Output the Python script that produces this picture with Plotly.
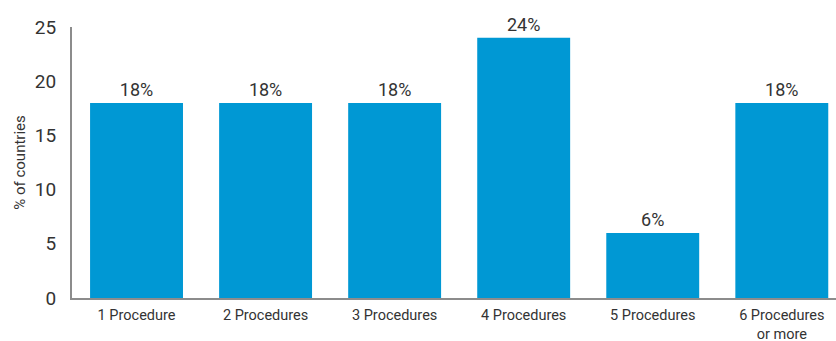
import plotly.graph_objects as go

categories = ["1 Procedure", "2 Procedures", "3 Procedures", "4 Procedures", "5 Procedures", "6 Procedures<br>or more"]
values = [18, 18, 18, 24, 6, 18]
labels = ["18%", "18%", "18%", "24%", "6%", "18%"]
y_ticks = [0, 5, 10, 15, 20, 25]

FONT = "Roboto, sans-serif"

fig = go.Figure(go.Bar(
    x=list(range(len(categories))),
    y=values,
    text=labels,
    textposition="outside",
    textfont=dict(size=18, color="#333333", family=FONT),
    marker=dict(color="#0098D4", line=dict(width=0)),
    cliponaxis=False,
    hoverinfo="skip",
))

fig.update_layout(
    width=836, height=341,
    margin=dict(l=72, r=0, t=27, b=43),
    plot_bgcolor="white", paper_bgcolor="white",
    bargap=0.28,
    showlegend=False,
    font=dict(family=FONT, color="#333333"),
    xaxis=dict(
        tickmode="array",
        tickvals=list(range(len(categories))),
        ticktext=categories,
        range=[-0.5, 5.42],
        showline=True, linecolor="#8c8c8c", linewidth=2,
        showgrid=False, zeroline=False, automargin=False,
        ticks="", ticklabelstandoff=3,
        tickfont=dict(size=14.5, color="#333333"),
    ),
    yaxis=dict(
        range=[0, 25],
        tickvals=y_ticks,
        showline=True, linecolor="#8c8c8c", linewidth=2,
        showgrid=False, zeroline=False, automargin=False,
        ticks="", ticklabelstandoff=10,
        tickfont=dict(size=19, color="#333333"),
        title=dict(text="% of countries", font=dict(size=15, color="#333333"), standoff=6),
    ),
)

fig.write_html(
    "out.html",
    config={"displayModeBar": False},
    post_script="document.body.style.margin='0';document.body.style.overflow='hidden';",
)
